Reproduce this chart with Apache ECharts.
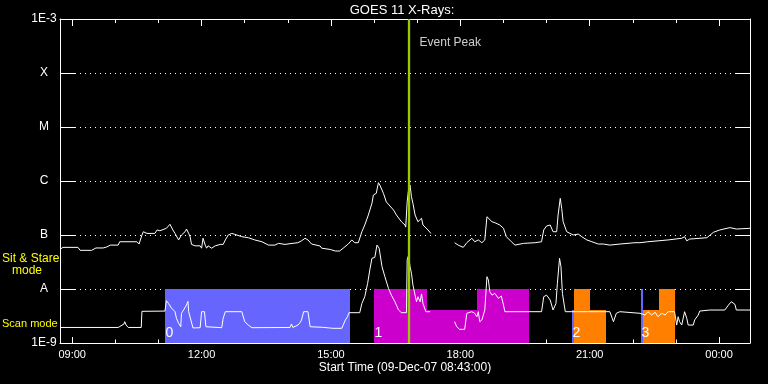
<!DOCTYPE html>
<html><head><meta charset="utf-8">
<script src="https://cdn.jsdelivr.net/npm/echarts@6/dist/echarts.min.js"></script>
<style>html,body{margin:0;padding:0;background:#000}#c{width:768px;height:384px}</style>
</head><body><div id="c"></div>
<script>
// ---- data (times HH:MM on 09-Dec-07, after midnight = next day; flux in W/m^2) ----
const longTimes = ["08:43","08:47","09:08","09:11","09:27","09:33","09:43","09:48","09:53","10:04","10:06","10:30","10:33","10:37","10:39","10:44","10:55","10:58","11:02","11:11","11:16","11:20","11:23","11:28","11:32","11:37","11:39","11:42","11:44","11:46","11:51","11:58","12:00","12:02","12:05","12:07","12:09","12:14","12:19","12:26","12:30","12:33","12:37","12:42","12:46","12:56","13:05","13:14","13:24","13:33","13:42","13:47","13:56","14:03","14:14","14:19","14:24","14:26","14:28","14:33","14:45","14:47","14:59","15:01","15:06","15:12","15:17","15:24","15:29","15:33","15:38","15:43","15:47","15:52","15:57","15:59","16:03","16:06","16:08","16:13","16:17","16:27","16:31","16:38","16:43","16:44","16:46","16:48","16:50","16:52","16:54","16:57","17:01","17:06","17:08","17:15","17:19","17:35","17:52","17:57","18:04","18:09","18:16","18:20","18:25","18:30","18:34","18:37","18:39","18:44","18:48","18:55","19:00","19:04","19:11","19:16","19:28","19:44","19:53","19:56","20:00","20:05","20:09","20:14","20:16","20:19","20:21","20:23","20:28","20:37","20:44","20:49","20:56","21:03","21:12","21:19","21:28","21:42","22:03","22:10","22:21","22:49","23:08","23:12","23:15","23:19","23:43","23:52","00:01","00:15","00:24","00:43"];
const longFlux = [5.4e-8,5.9e-8,5.9e-8,5.2e-8,5.2e-8,5.75e-8,5.75e-8,6.0e-8,6.5e-8,6.5e-8,7.5e-8,7.5e-8,6.8e-8,1.0e-7,1.15e-7,1.07e-7,1.07e-7,1.24e-7,1.2e-7,1.33e-7,1.58e-7,1.24e-7,1.07e-7,8.1e-8,1.0e-7,1.15e-7,1.29e-7,1.07e-7,9.3e-8,6.7e-8,6.3e-8,6.3e-8,5.7e-8,8.7e-8,6.5e-8,5.7e-8,6.3e-8,5.7e-8,6.3e-8,6.7e-8,6.7e-8,8.1e-8,1.0e-7,1.07e-7,1.03e-7,9.3e-8,8.9e-8,8.1e-8,7.5e-8,6.5e-8,6.5e-8,7.0e-8,6.7e-8,6.9e-8,7.2e-8,7.8e-8,8.7e-8,9.3e-8,8.1e-8,6.8e-8,6.25e-8,5.7e-8,5.4e-8,5.7e-8,5.05e-8,5.05e-8,5.7e-8,6.8e-8,8.1e-8,7.2e-8,7.2e-8,1.15e-7,1.53e-7,2.35e-7,3.86e-7,5.5e-7,5.9e-7,9.3e-7,8.4e-7,5.9e-7,4.1e-7,2.9e-7,2.35e-7,1.76e-7,1.53e-7,1.4e-7,4.1e-7,7.1e-7,8.4e-7,5.1e-7,3.86e-7,2.35e-7,1.76e-7,2.04e-7,1.53e-7,1.24e-7,1.07e-7,null,7.2e-8,6.5e-8,5.9e-8,7.2e-8,8.7e-8,7.5e-8,8.1e-8,7.2e-8,8.1e-8,2.18e-7,2.35e-7,1.76e-7,1.69e-7,1.53e-7,1.33e-7,9.3e-8,7.5e-8,6.5e-8,7.0e-8,7.2e-8,7.5e-8,1.24e-7,1.47e-7,1.53e-7,1.15e-7,1.15e-7,2.35e-7,4.77e-7,3.12e-7,1.76e-7,1.15e-7,1.0e-7,1.04e-7,9.3e-8,8.1e-8,7.5e-8,6.8e-8,6.8e-8,6.5e-8,6.8e-8,7.2e-8,7.2e-8,7.5e-8,8.1e-8,8.7e-8,9.3e-8,7.8e-8,8.4e-8,8.9e-8,1.12e-7,1.24e-7,1.37e-7,1.29e-7,1.33e-7];

const shortTimes = ["08:43","10:04","10:12","10:13","10:15","10:18","10:36","10:37","11:09","11:11","11:14","11:18","11:23","11:25","11:28","11:31","11:32","11:34","11:39","11:41","11:42","11:44","11:48","11:58","12:00","12:04","12:06","12:28","12:30","12:33","12:56","13:00","13:05","13:10","14:03","14:05","14:07","14:14","14:17","14:19","14:22","14:28","14:31","14:49","15:03","15:15","15:17","15:20","15:23","15:25","15:40","15:43","15:47","15:51","15:54","15:57","16:01","16:04","16:07","16:11","16:15","16:20","16:24","16:29","16:34","16:38","16:45","16:46","16:48","16:50","16:52","16:54","16:57","16:59","17:01","17:04","17:06","17:08","17:12","17:18","17:35","17:52","17:55","17:59","18:06","18:09","18:16","18:20","18:23","18:25","18:27","18:30","18:34","18:37","18:39","18:41","18:44","18:48","18:53","18:57","19:00","19:02","19:53","19:56","20:00","20:05","20:09","20:13","20:15","20:18","20:20","20:22","20:26","21:28","21:33","21:37","21:42","22:10","22:17","22:21","22:26","22:31","22:35","22:40","22:45","22:49","22:58","23:01","23:03","23:05","23:08","23:12","23:15","23:17","23:19","23:24","23:26","23:31","23:33","23:47","00:08","00:13","00:17","00:22","00:24","00:43"];
const shortFlux = [1.94e-9,1.94e-9,2.25e-9,2.48e-9,2.15e-9,1.94e-9,1.94e-9,3.86e-9,3.9e-9,6.07e-9,5.4e-9,4.45e-9,3.8e-9,2.87e-9,2.32e-9,2.0e-9,3.55e-9,3.9e-9,5.05e-9,5.9e-9,3.8e-9,3.55e-9,1.9e-9,1.92e-9,3.8e-9,3.8e-9,2.0e-9,1.92e-9,2.87e-9,3.8e-9,3.8e-9,2.48e-9,2.15e-9,1.92e-9,1.94e-9,2.25e-9,1.94e-9,2.15e-9,2.38e-9,2.67e-9,3.8e-9,3.8e-9,2.0e-9,1.95e-9,1.87e-9,1.87e-9,2.15e-9,2.67e-9,3.07e-9,3.64e-9,3.64e-9,5.4e-9,7.2e-9,1.27e-8,2.25e-8,3.7e-8,3.86e-8,6.5e-8,5.7e-8,2.59e-8,1.69e-8,1.03e-8,7.7e-9,5.8e-9,4.08e-9,3.64e-9,3.64e-9,3.45e-8,4.26e-8,2.59e-8,1.95e-8,1.19e-8,7.7e-9,5.8e-9,7.2e-9,5.8e-9,8.1e-9,5.4e-9,3.8e-9,3.8e-9,null,2.48e-9,2.0e-9,1.79e-9,1.79e-9,3.55e-9,3.8e-9,3.55e-9,3.07e-9,3.8e-9,2.48e-9,2.67e-9,4.08e-9,1.69e-8,1.47e-8,8.9e-9,7.7e-9,8.3e-9,6.7e-9,7.4e-9,5.05e-9,3.8e-9,3.8e-9,7.2e-9,7.7e-9,6.25e-9,4.08e-9,5.4e-9,1.27e-8,3.7e-8,2.59e-8,8.3e-9,3.8e-9,3.8e-9,2.48e-9,3.55e-9,3.8e-9,3.55e-9,3.3e-9,3.8e-9,3.3e-9,3.7e-9,3.07e-9,3.55e-9,3.3e-9,3.8e-9,3.8e-9,2.15e-9,3.07e-9,2.48e-9,2.15e-9,3.8e-9,2.87e-9,2.15e-9,2.32e-9,2.15e-9,2.67e-9,3.3e-9,3.9e-9,4.08e-9,4.08e-9,5.05e-9,5.8e-9,5.2e-9,4.08e-9,4.08e-9];

// observing-mode blocks (drawn between 1E-9 and top level)
const boxStart = ["11:09","16:00","17:13","18:23","20:36","20:38","21:01","22:11","22:14","22:37"];
const boxEnd   = ["15:26","17:13","18:23","19:35","20:38","21:01","21:23","22:14","22:37","22:59"];
const boxTop   = [1e-8,1e-8,4e-9,1e-8,4e-9,1e-8,4e-9,1e-8,4e-9,1e-8];
const boxKind  = ["blue","magenta","magenta","magenta","blue","orange","orange","blue","orange","orange"];
const boxLabel = ["0","1","","","2","","","3","",""];

const startTime = "08:43", endTime = "00:43";
const eventTime = "16:48";
const eventLabelFlux = 3.6e-4;
const xMajorHours = [9,12,15,18,21,24];
const xTickLabels = ["09:00","12:00","15:00","18:00","21:00","00:00"];
const xMinorHours = [9,10,11,12,13,14,15,16,17,18,19,20,21,22,23,24];
const yTickLabels = ["1E-9","A","B","C","M","X","1E-3"];

const kindColor = {blue:"#6666ff", magenta:"#cc00cc", orange:"#ff7f00"};
const FONT = '"Liberation Sans", Arial, sans-serif';

function toHours(s){ const p=s.split(':').map(Number); let h=p[0]+p[1]/60; if(h<8) h+=24; return h; }
const xMin = toHours(startTime), xMax = toHours(endTime);
const longData = longTimes.map((t,i)=>[toHours(t), longFlux[i]==null?'-':longFlux[i]]);
const shortData = shortTimes.map((t,i)=>[toHours(t), shortFlux[i]==null?'-':shortFlux[i]]);
const boxData = boxStart.map((s,i)=>[toHours(s), toHours(boxEnd[i]), boxTop[i], i]);
const labelData = boxData.filter(d=>boxLabel[d[3]]);

function xAxisDef(pos, values, len, labels, line){
  return {
    type:'value', position:pos, min:xMin, max:xMax, gridIndex:0,
    axisLine:{show:line, onZero:false, lineStyle:{color:'#fff', width:1}},
    axisTick:{show:true, inside:true, length:len, customValues:values, lineStyle:{color:'#fff', width:1}},
    axisLabel:{show:labels, customValues:values, margin:6, color:'#fff', fontSize:11, fontFamily:FONT,
      formatter:v=>{const k=xMajorHours.indexOf(Math.round(v)); return k>=0?xTickLabels[k]:'';}},
    splitLine:{show:false}
  };
}
function yAxisDef(pos, labels, split, len){
  return {
    type:'log', logBase:10, position:pos, min:1e-9, max:1e-3, splitNumber:6,
    axisLine:{show:true, onZero:false, lineStyle:{color:'#fff', width:1}},
    axisTick:{show:true, inside:true, length:len, lineStyle:{color:'#fff', width:1}},
    axisLabel:{show:labels, margin:16, align:'center', color:'#fff', fontSize:12, fontFamily:FONT,
      formatter:v=>yTickLabels[Math.round(Math.log10(v))+9]},
    splitLine:{show:split, lineStyle:{color:'#fff', width:1, type:[1,4]}}
  };
}

const chart = echarts.init(document.getElementById('c'), null, {renderer:'canvas'});
chart.setOption({
  backgroundColor:'#000',
  animation:false,
  grid:{left:60, right:18, top:19, bottom:41, outerBoundsMode:'none', containLabel:false},
  xAxis:[
    xAxisDef('bottom', xMajorHours, 6, true, true),
    xAxisDef('bottom', xMinorHours, 3.5, false, false),
    xAxisDef('top', xMajorHours, 7, false, true),
    xAxisDef('top', xMinorHours, 4, false, false)
  ],
  yAxis:[ yAxisDef('left', true, true, 15), yAxisDef('right', false, false, 14) ],
  graphic:[
    {type:'text', x:402, y:10, z:100, style:{text:'GOES 11 X-Rays:', fill:'#fff', font:'13px '+FONT, align:'center', textAlign:'center', verticalAlign:'middle', textVerticalAlign:'middle'}},
    {type:'text', x:405, y:368, z:100, style:{text:'Start Time (09-Dec-07 08:43:00)', fill:'#fff', font:'12px '+FONT, align:'center', textAlign:'center', verticalAlign:'middle', textVerticalAlign:'middle'}},
    {type:'text', x:2, y:259, z:100, style:{text:'Sit & Stare', fill:'#ffff00', font:'12px '+FONT, align:'left', textAlign:'left', verticalAlign:'middle', textVerticalAlign:'middle'}},
    {type:'text', x:12, y:271, z:100, style:{text:'mode', fill:'#ffff00', font:'12px '+FONT, align:'left', textAlign:'left', verticalAlign:'middle', textVerticalAlign:'middle'}},
    {type:'text', x:2, y:324, z:100, style:{text:'Scan mode', fill:'#ffff00', font:'11px '+FONT, align:'left', textAlign:'left', verticalAlign:'middle', textVerticalAlign:'middle'}}
  ],
  series:[
    {
      type:'custom', xAxisIndex:0, yAxisIndex:0, z:1, data:boxData,
      encode:{x:[0,1], y:[2]},
      renderItem:(params, api)=>{
        const i = api.value(3);
        const p0 = api.coord([api.value(0), api.value(2)]);
        const p1 = api.coord([api.value(1), 1e-9]);
        const x0 = Math.round(p0[0]), x1 = Math.round(p1[0]);
        const y0 = Math.round(p0[1]), y1 = Math.round(p1[1]);
        return {type:'rect', shape:{x:x0, y:y0, width:x1-x0, height:y1-y0}, style:{fill:kindColor[boxKind[i]]}};
      }
    },
    {
      type:'custom', xAxisIndex:0, yAxisIndex:0, z:2, data:labelData,
      encode:{x:[0,1], y:[2]},
      renderItem:(params, api)=>{
        const i = api.value(3);
        const p0 = api.coord([api.value(0), 1e-9]);
        return {type:'text', x:Math.round(p0[0])+0.5, y:p0[1]-3, style:{text:boxLabel[i], fill:'#ffffff', font:'14px '+FONT, align:'left', textAlign:'left', verticalAlign:'bottom', textVerticalAlign:'bottom'}};
      }
    },
    {type:'line', name:'long', data:longData, z:3, showSymbol:false, symbol:'none', connectNulls:false,
      lineStyle:{color:'#fff', width:1}, silent:true},
    {type:'line', name:'short', data:shortData, z:3, showSymbol:false, symbol:'none', connectNulls:false,
      lineStyle:{color:'#fff', width:1}, silent:true},
    {type:'scatter', name:'event', z:5, symbolSize:0, data:[[toHours(eventTime), eventLabelFlux]],
      label:{show:true, position:'right', distance:11, formatter:'Event Peak', color:'#fff', fontSize:12, fontFamily:FONT},
      markLine:{silent:true, symbol:['none','none'], label:{show:false},
        lineStyle:{color:'#99cc00', width:2.3, type:'solid'}, data:[{xAxis:toHours(eventTime)}]}}
  ]
});
</script></body></html>
